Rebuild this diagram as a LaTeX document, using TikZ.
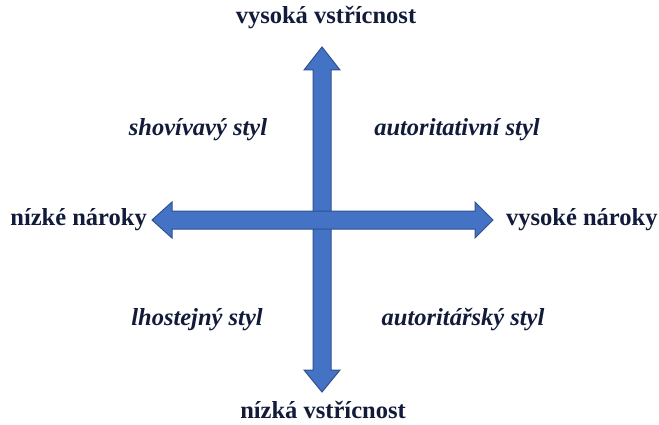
\documentclass[tikz,border=0pt]{standalone}
\usepackage{fontspec}
\setmainfont{Liberation Serif}
\definecolor{axblue}{RGB}{68,114,196}
\definecolor{axedge}{RGB}{47,82,143}
\definecolor{labnavy}{RGB}{18,28,58}
\usetikzlibrary{positioning}

\begin{document}
\begin{tikzpicture}[x=1pt,y=-1pt,
    axlabel/.style={text=labnavy,font=\fontsize{24.5}{28}\selectfont\bfseries,inner sep=0pt},
    stylelabel/.style={text=labnavy,font=\fontsize{24.5}{28}\selectfont\bfseries\itshape,inner sep=0pt},
    axarrow/.style={fill=axblue,draw=axedge,line width=1pt,line join=miter}]
  \useasboundingbox (0,0) rectangle (659,425);

  % vertical arrow (vstricnost)
  \filldraw[axarrow] (322,47) -- (340,70) -- (331,70) -- (331,370) -- (340,370)
        -- (322,392) -- (304,370) -- (313,370) -- (313,70) -- (304,70) -- cycle;
  % horizontal arrow (naroky)
  \filldraw[axarrow] (152,220) -- (172,202) -- (172,211) -- (475,211) -- (475,202)
        -- (493,220) -- (475,238) -- (475,229) -- (172,229) -- (172,238) -- cycle;

  % axis ends
  \node[axlabel] (vstrH) at (326,18) {vysoká vstřícnost};
  \node[axlabel] (vstrL) at (323,410) {nízká vstřícnost};
  \node[axlabel,anchor=east] (narL) at (147,220) {nízké nároky};
  \node[axlabel,anchor=west] (narH) at (506,220) {vysoké nároky};

  % quadrants
  \node[stylelabel] (shov) at (198,130) {shovívavý styl};
  \node[stylelabel] (autv) at (457,130) {autoritativní styl};
  \node[stylelabel] (lhos) at (197,320) {lhostejný styl};
  \node[stylelabel] (autr) at (463,320) {autoritářský styl};
\end{tikzpicture}
\end{document}
